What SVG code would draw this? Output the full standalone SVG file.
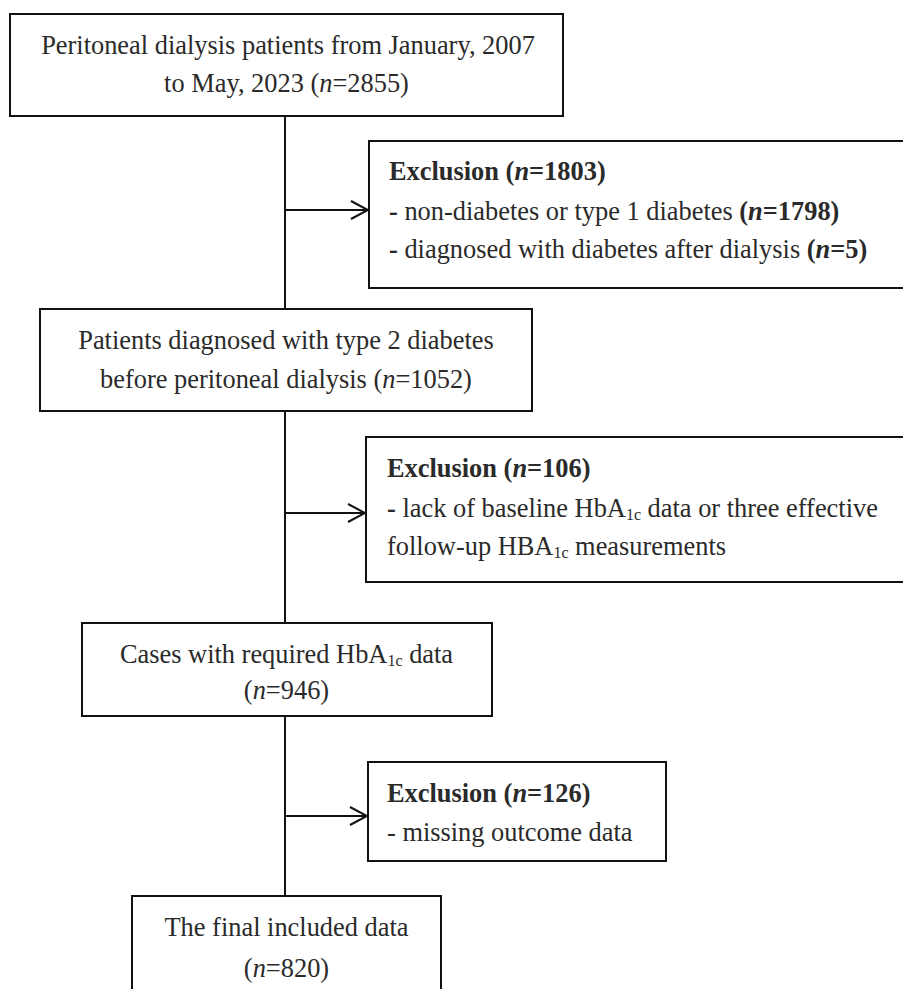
<svg xmlns="http://www.w3.org/2000/svg" width="903" height="989" viewBox="0 0 903 989">
<defs>
<style>
.box{fill:#fff;stroke:#111;stroke-width:2}
.t{font-family:"Liberation Serif","Times New Roman",serif;font-size:26.4px;fill:#2a2a2a}
.c{text-anchor:middle}
.b{font-weight:bold}
.i{font-style:italic}
.sub{font-size:16px}
.ln{stroke:#111;stroke-width:2;fill:none}
</style>
<marker id="arr" viewBox="0 0 20 20" refX="18" refY="10" markerWidth="20" markerHeight="20" markerUnits="userSpaceOnUse" orient="auto">
<path d="M1,1 L18,10 L1,19" fill="none" stroke="#111" stroke-width="2"/>
</marker>
</defs>
<rect x="0" y="0" width="903" height="989" fill="#fff"/>
<g id="connectors" class="ln">
<line x1="285" y1="116" x2="285" y2="309"/>
<line x1="285" y1="411" x2="285" y2="623"/>
<line x1="285" y1="716" x2="285" y2="896"/>
<line x1="285" y1="210" x2="368" y2="210" marker-end="url(#arr)"/>
<line x1="285" y1="513" x2="365" y2="513" marker-end="url(#arr)"/>
<line x1="285" y1="816" x2="367" y2="816" marker-end="url(#arr)"/>
</g>
<g id="start">
<rect class="box" x="10" y="14" width="553" height="102"/>
<text class="t c" x="288" y="54">Peritoneal dialysis patients from January, 2007</text>
<text class="t c" x="286.5" y="92">to May, 2023 (<tspan class="i">n</tspan>=2855)</text>
</g>
<g id="exclusion1">
<rect class="box" x="369" y="141" width="545" height="147"/>
<text class="t b" x="389" y="180">Exclusion (<tspan class="i">n</tspan>=1803)</text>
<text class="t" x="389" y="220"><tspan class="b">-</tspan> non-diabetes or type 1 diabetes <tspan class="b">(<tspan class="i">n</tspan>=1798)</tspan></text>
<text class="t" x="389" y="258"><tspan class="b">-</tspan> diagnosed with diabetes after dialysis <tspan class="b">(<tspan class="i">n</tspan>=5)</tspan></text>
</g>
<g id="type2">
<rect class="box" x="40" y="309" width="492" height="102"/>
<text class="t c" x="286" y="349">Patients diagnosed with type 2 diabetes</text>
<text class="t c" x="286" y="388">before peritoneal dialysis (<tspan class="i">n</tspan>=1052)</text>
</g>
<g id="exclusion2">
<rect class="box" x="366" y="437" width="548" height="145"/>
<text class="t b" x="387" y="477">Exclusion (<tspan class="i">n</tspan>=106)</text>
<text class="t" x="387" y="517"><tspan class="b">-</tspan> lack of baseline HbA<tspan class="sub" dy="3">1c</tspan><tspan dy="-3"> data or three effective</tspan></text>
<text class="t" x="387" y="555">follow-up HBA<tspan class="sub" dy="3">1c</tspan><tspan dy="-3"> measurements</tspan></text>
</g>
<g id="hba1c">
<rect class="box" x="82" y="623" width="410" height="93"/>
<text class="t c" x="286.5" y="663">Cases with required HbA<tspan class="sub" dy="3">1c</tspan><tspan dy="-3"> data</tspan></text>
<text class="t c" x="286.5" y="699">(<tspan class="i">n</tspan>=946)</text>
</g>
<g id="exclusion3">
<rect class="box" x="368" y="762" width="298" height="99"/>
<text class="t b" x="387" y="802">Exclusion (<tspan class="i">n</tspan>=126)</text>
<text class="t" x="387" y="841">- missing outcome data</text>
</g>
<g id="final">
<rect class="box" x="132" y="896" width="309" height="110"/>
<text class="t c" x="286.5" y="936">The final included data</text>
<text class="t c" x="286.5" y="977">(<tspan class="i">n</tspan>=820)</text>
</g>
</svg>
